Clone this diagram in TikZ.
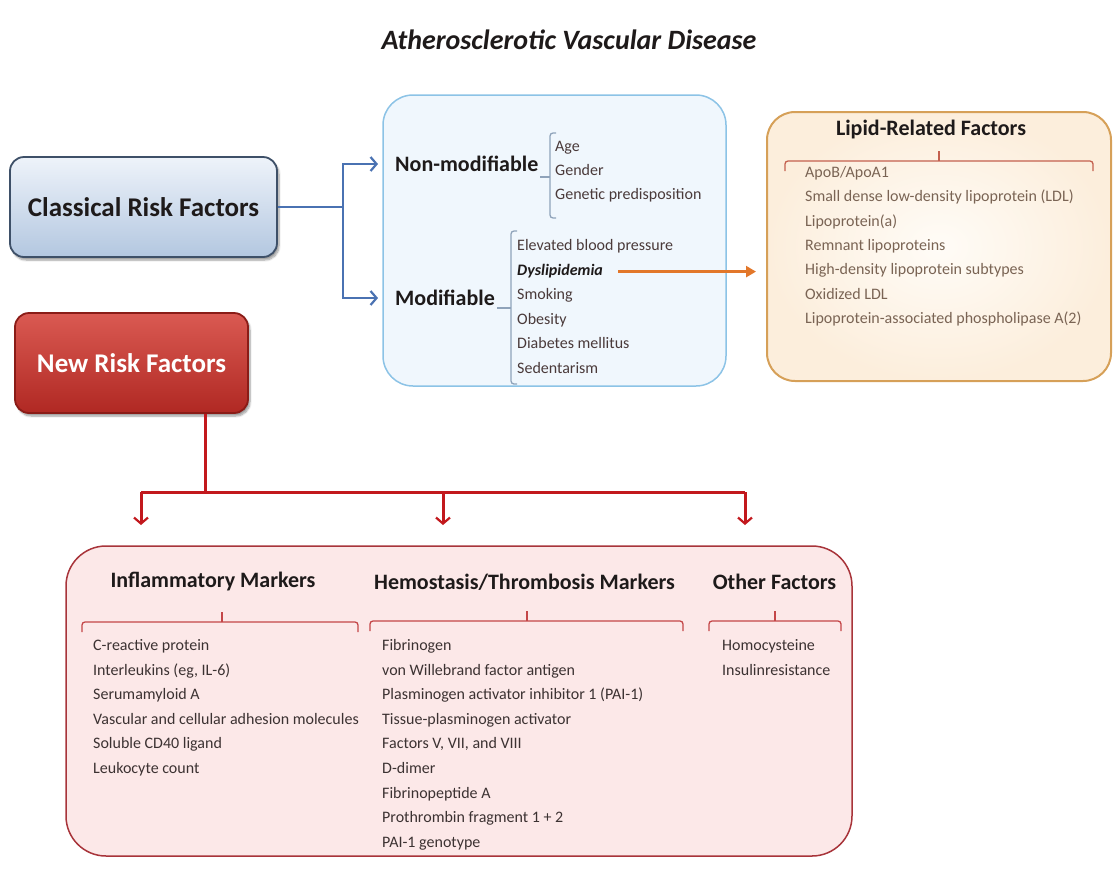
\documentclass[tikz,border=0pt]{standalone}
\usepackage{fontspec}
\setmainfont{Carlito}
\usepackage{tikz}
\usetikzlibrary{positioning, arrows.meta, calc, shadows.blur}

\definecolor{crftop}{HTML}{EEF3FA}
\definecolor{crfbot}{HTML}{B3C7E0}
\definecolor{crfedge}{HTML}{3E5068}
\definecolor{nrftop}{HTML}{DA5A52}
\definecolor{nrfbot}{HTML}{B02823}
\definecolor{nrfedge}{HTML}{8A1C17}
\definecolor{midfill}{HTML}{F0F7FD}
\definecolor{midedge}{HTML}{8CC3E6}
\definecolor{lipin}{HTML}{FFFCF7}
\definecolor{lipout}{HTML}{FCEEDC}
\definecolor{lipedge}{HTML}{D6A058}
\definecolor{lipbrk}{HTML}{C4604E}
\definecolor{newfill}{HTML}{FCE8E8}
\definecolor{newedge}{HTML}{A8343A}
\definecolor{newbrk}{HTML}{C44648}
\definecolor{midbrk}{HTML}{8FA3BA}
\definecolor{flowblue}{HTML}{4A72B2}
\definecolor{flowred}{HTML}{C2181D}
\definecolor{floworange}{HTML}{E2772A}
\definecolor{headtxt}{HTML}{1E1A1A}
\definecolor{itemtxt}{HTML}{4A3A3A}
\definecolor{liptxt}{HTML}{7A6454}
\definecolor{newtxt}{HTML}{3C3232}

\begin{document}
\begin{tikzpicture}[
  x=1pt, y=-1pt,
  riskbox/.style={draw, rounded corners=14pt, line width=1.8pt, align=center,
    font=\bfseries\fontsize{27}{30}\selectfont,
    blur shadow={shadow xshift=2pt, shadow yshift=-3pt, shadow blur steps=6}},
  panel/.style={draw, line width=1.5pt},
  head/.style={inner sep=0pt, font=\bfseries\fontsize{22}{26}\selectfont, text=headtxt},
  item/.style={anchor=west, inner sep=0pt, font=\fontsize{16}{19}\selectfont,
    text height=11pt, text depth=4pt},
  brk/.style={line width=1.3pt, rounded corners=3pt},
  blueflow/.style={draw=flowblue, line width=2.6pt},
  redflow/.style={draw=flowred, line width=3pt},
  barb/.style={-{Straight Barb[length=6pt, width=14pt, line width=2.2pt]}},
]
  \useasboundingbox (0,0) rectangle (1117,868);

  \node[font=\bfseries\itshape\fontsize{28}{32}\selectfont, text=headtxt] (title) at (569,40)
        {Atherosclerotic Vascular Disease};

  % Left column: the two groups of risk factors
  \node[riskbox, draw=crfedge, top color=crftop, bottom color=crfbot, text=headtxt,
        minimum width=267pt, minimum height=100pt] (crf) at (143.5,207) {Classical Risk Factors};
  \node[riskbox, draw=nrfedge, top color=nrftop, bottom color=nrfbot, text=white,
        minimum width=233pt, minimum height=100pt] (nrf) at (131.5,363) {New Risk Factors};

  % Panels
  \node[panel, draw=midedge, fill=midfill, rounded corners=30pt,
        minimum width=343pt, minimum height=291pt] (mid) at (554.5,240.5) {};
  \node[panel, draw=lipedge, line width=2pt, inner color=lipin, outer color=lipout, rounded corners=28pt,
        minimum width=344pt, minimum height=269pt] (lipid) at (939,246.5) {};
  \node[panel, draw=newedge, fill=newfill, rounded corners=40pt,
        minimum width=786pt, minimum height=310pt] (newp) at (459,701) {};

  % Classical risk factors panel
  \node[head, anchor=west] (nonmod) at (395,164) {Non-modifiable};
  \node[head, anchor=west] (mod) at (395,298) {Modifiable};
  \draw[brk, midbrk] (540,177) -- (550,177);
  \draw[brk, midbrk] (556,133) -- (550,133) -- (550,218) -- (556,218);
  \draw[brk, midbrk] (497,308) -- (511,308);
  \draw[brk, midbrk] (517,231) -- (511,231) -- (511,384) -- (517,384);
  \foreach \txt [count=\i from 0] in {Age, Gender, Genetic predisposition}
    \node[item, text=itemtxt] (nm\i) at (555,{148+24*\i}) {\txt};
  \foreach \txt [count=\i from 0] in {Elevated blood pressure, {\color{headtxt}\bfseries\itshape Dyslipidemia},
      Smoking, Obesity, Diabetes mellitus, Sedentarism}
    \node[item, text=itemtxt] (md\i) at (517,{247+24.6*\i}) {\txt};

  % Lipid-related factors panel
  \node[head] (liphead) at (931,130) {Lipid-Related Factors};
  \draw[brk, lipbrk] (785,171) -- (785,161) -- (1093,161) -- (1093,171);
  \draw[brk, lipbrk] (939,161) -- (939,151);
  \foreach \txt [count=\i from 0] in {ApoB/ApoA1, Small dense low-density lipoprotein (LDL),
      Lipoprotein(a), Remnant lipoproteins, High-density lipoprotein subtypes, Oxidized LDL,
      Lipoprotein-associated phospholipase A(2)}
    \node[item, text=liptxt] (lp\i) at (805,{174+24.3*\i}) {\txt};

  % New risk factors panel
  \node[head] (infhead) at (213,582) {Inflammatory Markers};
  \node[head] (hemhead) at (524.5,582) {Hemostasis/Thrombosis Markers};
  \node[head] (othhead) at (774.5,582) {Other Factors};
  \draw[brk, newbrk] (82,632) -- (82,622) -- (358,622) -- (358,632);
  \draw[brk, newbrk] (222,622) -- (222,612);
  \draw[brk, newbrk] (370,631) -- (370,621) -- (683,621) -- (683,631);
  \draw[brk, newbrk] (527,621) -- (527,611);
  \draw[brk, newbrk] (709,631) -- (709,621) -- (841,621) -- (841,631);
  \draw[brk, newbrk] (775,621) -- (775,611);
  \foreach \txt [count=\i from 0] in {C-reactive protein, {Interleukins (eg, IL-6)}, Serumamyloid A,
      Vascular and cellular adhesion molecules, Soluble CD40 ligand, Leukocyte count}
    \node[item, text=newtxt] (inf\i) at (93,{647+24.6*\i}) {\txt};
  \foreach \txt [count=\i from 0] in {Fibrinogen, von Willebrand factor antigen,
      Plasminogen activator inhibitor 1 (PAI-1), Tissue-plasminogen activator,
      {Factors V, VII, and VIII}, D-dimer, Fibrinopeptide A, Prothrombin fragment 1 + 2, PAI-1 genotype}
    \node[item, text=newtxt] (hem\i) at (382,{647+24.6*\i}) {\txt};
  \foreach \txt [count=\i from 0] in {Homocysteine, Insulinresistance}
    \node[item, text=newtxt] (oth\i) at (722,{647+24.6*\i}) {\txt};

  % Connectors
  \coordinate (split) at (343,207);
  \draw[blueflow] (crf.east) -- (split);
  \draw[blueflow, barb] (split) |- ([xshift=-17pt]nonmod.west);
  \draw[blueflow, barb] (split) |- ([xshift=-17pt]mod.west);
  \draw[draw=floworange, line width=3pt, -{Triangle[length=10pt, width=11pt]}]
       ([xshift=15pt]md1.east) -- ([xshift=-10pt]md1.east -| lipid.west);

  \coordinate (trunk) at (205,492);
  \coordinate (ainf) at (141,525);
  \coordinate (ahem) at (443,525);
  \coordinate (aoth) at (745,525);
  \draw[redflow] (nrf.south -| trunk) -- (trunk);
  \draw[redflow] (ainf |- trunk) -- (aoth |- trunk);
  \foreach \a in {ainf, ahem, aoth}
    \draw[redflow, barb] (\a |- trunk) -- (\a);
\end{tikzpicture}
\end{document}
